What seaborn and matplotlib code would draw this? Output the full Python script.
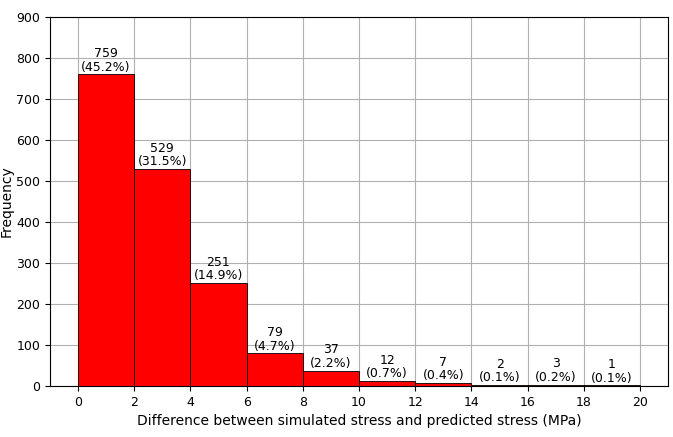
import numpy as np
import matplotlib
matplotlib.use("Agg")
import matplotlib.pyplot as plt
import seaborn as sns

# Histogram data
bin_edges = [0, 2, 4, 6, 8, 10, 12, 14, 16, 18, 20]
counts = [759, 529, 251, 79, 37, 12, 7, 2, 3, 1]
xticks = [0, 2, 4, 6, 8, 10, 12, 14, 16, 18, 20]

centers = [(a + b) / 2 for a, b in zip(bin_edges[:-1], bin_edges[1:])]
total = sum(counts)

fig, ax = plt.subplots(figsize=(6.73, 4.37), dpi=100)
ax.set_axisbelow(True)
ax.grid(True, color="#b0b0b0", linewidth=0.8)

sns.histplot(x=centers, weights=counts, bins=bin_edges, color="red",
             edgecolor="black", linewidth=0.6, alpha=1, ax=ax)

for c, n in zip(centers, counts):
    ax.text(c, n + 2, f"{n}\n({n / total * 100:.1f}%)", ha="center", va="bottom",
            fontsize=9, linespacing=1.05)

ax.set_xticks(xticks)
ax.set_xlim(-1, 21)
ax.set_ylim(0, 900)
ax.set_xlabel("Difference between simulated stress and predicted stress (MPa)", fontsize=10)
ax.set_ylabel("Frequency", fontsize=10, labelpad=2)
ax.tick_params(labelsize=9)

fig.subplots_adjust(left=0.074, right=0.993, top=0.962, bottom=0.117)
fig.savefig("out.png", dpi=100)
plt.close()
